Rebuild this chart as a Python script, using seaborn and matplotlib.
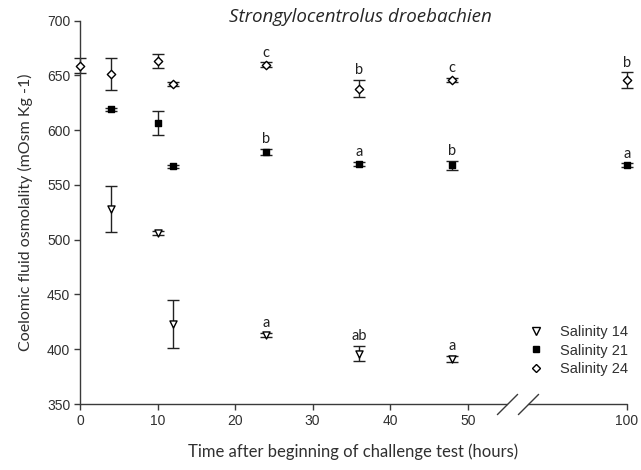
import numpy as np
import pandas as pd
import matplotlib
matplotlib.use("Agg")
import matplotlib.pyplot as plt
from matplotlib.lines import Line2D
import seaborn as sns

# ---------------- data ----------------
time_24 = [0, 4, 10, 12, 24, 36, 48, 100]
mean_24 = [659, 651, 663, 642, 660, 638, 646, 646]
err_24 = [7, 14.5, 6.5, 2, 2, 8, 2, 7]
letters_24 = ["", "", "", "", "c", "b", "c", "b"]

time_21 = [4, 10, 12, 24, 36, 48, 100]
mean_21 = [619, 607, 567, 580, 569, 568, 568]
err_21 = [1.5, 11, 1.5, 3, 2, 4, 2]
letters_21 = ["", "", "", "b", "a", "b", "a"]

time_14 = [4, 10, 12, 24, 36, 48]
mean_14 = [528, 506, 423, 413, 396, 391]
err_14 = [21, 2, 22, 2, 7, 3]
letters_14 = ["", "", "", "a", "ab", "a"]

series_names = ["Salinity 14", "Salinity 21", "Salinity 24"]
x_ticks = [0, 10, 20, 30, 40, 50, 100]
y_ticks = [350, 400, 450, 500, 550, 600, 650, 700]

title = "Strongylocentrolus droebachien"
xlabel = "Time after beginning of challenge test (hours)"
ylabel = "Coelomic fluid osmolality (mOsm Kg -1)"

# --------------- styling ---------------
sns.set_theme(style="white")
plt.rcParams["font.family"] = ["Liberation Sans", "DejaVu Sans"]
LABEL_FONT = ["Lato", "DejaVu Sans"]
TITLE_FONT = ["Open Sans", "DejaVu Sans"]
AX_COL = "#3a3a3a"

fig = plt.figure(figsize=(6.41, 4.70), dpi=100)
ax = fig.add_axes([80 / 641, 1 - 404 / 470, (626.7 - 80) / 641, (404 - 20.7) / 470])

# broken x-axis: compress everything after 55 h
BRK = 55.0
K = 15.5 / 45.0


def fwd(x):
    x = np.asarray(x, dtype=float)
    return np.where(x <= BRK, x, BRK + (x - BRK) * K)


def inv(y):
    y = np.asarray(y, dtype=float)
    return np.where(y <= BRK, y, BRK + (y - BRK) / K)


ax.set_xscale("function", functions=(fwd, inv))

frames = []
for name, t, m, e, l in [
    ("Salinity 14", time_14, mean_14, err_14, letters_14),
    ("Salinity 21", time_21, mean_21, err_21, letters_21),
    ("Salinity 24", time_24, mean_24, err_24, letters_24),
]:
    frames.append(pd.DataFrame({"series": name, "time": t, "mean": m, "err": e, "letter": l}))
df = pd.concat(frames, ignore_index=True)

styles = {
    "Salinity 14": dict(marker="v", face="white", size=26),
    "Salinity 21": dict(marker="s", face="black", size=22),
    "Salinity 24": dict(marker="D", face="white", size=18),
}

for name in series_names:
    sub = df[df["series"] == name]
    ax.errorbar(sub["time"], sub["mean"], yerr=sub["err"], fmt="none",
                ecolor="#222222", elinewidth=1.0, capsize=4.0, capthick=1.0,
                zorder=2, clip_on=False)
    st = styles[name]
    sns.scatterplot(data=sub, x="time", y="mean", marker=st["marker"], s=st["size"],
                    color=st["face"], edgecolor="black", linewidth=1.0, ax=ax,
                    zorder=3, clip_on=False, legend=False)
    for _, r in sub.iterrows():
        if r["letter"]:
            ax.annotate(r["letter"], (r["time"], r["mean"] + r["err"]),
                        xytext=(0, 4.0), textcoords="offset points",
                        ha="center", va="baseline", fontsize=10.5,
                        family=LABEL_FONT, color="#222222")

ax.set_xlim(0, 100)
ax.set_ylim(350, 700)
ax.set_xticks(x_ticks)
ax.set_xticklabels([str(v) for v in x_ticks])
ax.set_yticks(y_ticks)
ax.set_yticklabels([str(v) for v in y_ticks])
ax.minorticks_off()
ax.tick_params(axis="both", direction="out", length=4, width=1.0, color=AX_COL,
               labelsize=10, labelcolor="#303030", pad=3, bottom=True, left=True)

ax.set_xlabel(xlabel, family=LABEL_FONT, fontsize=12, color="#303030", labelpad=11)
ax.set_ylabel(ylabel, family=LABEL_FONT, fontsize=11.5, color="#303030", labelpad=10)

for s in ["top", "right", "bottom"]:
    ax.spines[s].set_visible(False)
ax.spines["left"].set_color(AX_COL)
ax.spines["left"].set_linewidth(1.0)

# bottom axis line in two pieces with break marks
xt = ax.get_xaxis_transform()
gap_right = inv(57.8).item()
ax.plot([0, BRK], [0, 0], transform=xt, color=AX_COL, lw=1.0, clip_on=False, zorder=1)
ax.plot([gap_right, 100], [0, 0], transform=xt, color=AX_COL, lw=1.0, clip_on=False, zorder=1)
for xb in [BRK, gap_right]:
    ax.plot([xb], [0], transform=xt, marker=[(-1, -1), (1, 1)], markersize=15,
            mew=1.0, color=AX_COL, clip_on=False, linestyle="none")

fig.text(360 / 641, 1 - 22 / 470, title, style="italic", family=TITLE_FONT,
         fontsize=13.5, color="#262626", ha="center", va="baseline")

handles = [
    Line2D([], [], marker="v", linestyle="none", markerfacecolor="white",
           markeredgecolor="black", markersize=5.5),
    Line2D([], [], marker="s", linestyle="none", markerfacecolor="black",
           markeredgecolor="black", markersize=5),
    Line2D([], [], marker="D", linestyle="none", markerfacecolor="white",
           markeredgecolor="black", markersize=4.5),
]
leg = ax.legend(handles, series_names, loc="center left",
                bbox_to_anchor=((521 - 80) / 546.7, (404 - 350.5) / 383.3),
                frameon=False, fontsize=10.5, handlelength=1.2, handletextpad=1.1,
                labelspacing=0.3, borderaxespad=0)
for t in leg.get_texts():
    t.set_color("#303030")

fig.savefig("out.png", dpi=100)
